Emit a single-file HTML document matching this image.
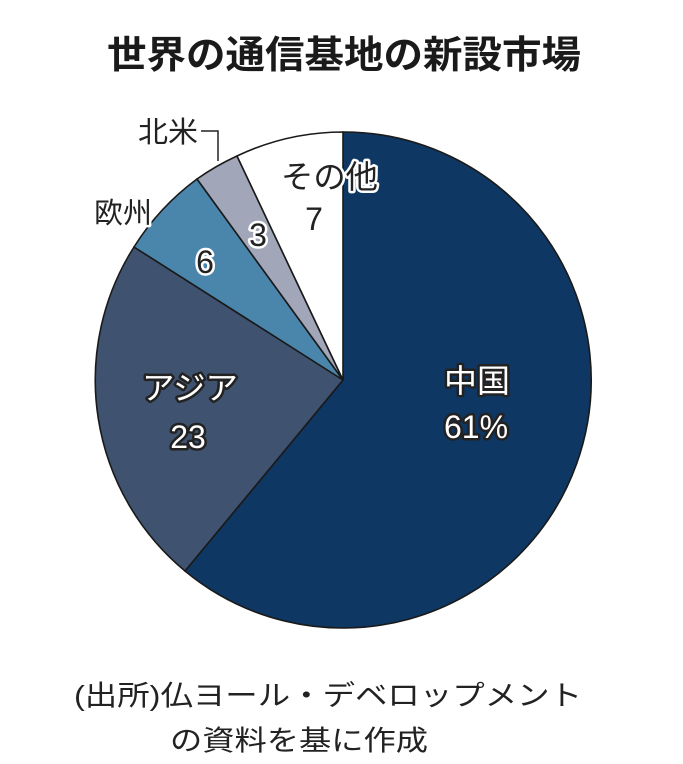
<!DOCTYPE html>
<html><head><meta charset="utf-8"><style>
body{margin:0;background:#fff;}
svg{display:block;font-family:"Liberation Sans","Noto Sans CJK JP",sans-serif;}
.h{paint-order:stroke;stroke:#fff;stroke-width:5px;stroke-linejoin:round;}
.w{paint-order:stroke;stroke:#222;stroke-width:5px;stroke-linejoin:round;fill:#fff;}
</style></head><body>
<svg width="683" height="764" viewBox="0 0 683 764">
<text x="107" y="68" font-size="38" font-weight="bold" fill="#1a1a1a" textLength="474" lengthAdjust="spacingAndGlyphs">世界の通信基地の新設市場</text>
<g stroke="#1a1a1a" stroke-width="1.6">
<path d="M343,380 L343,132 A248,248 0 1,1 185,571 Z" fill="#0e3763"/>
<path d="M343,380 L185,571 A248,248 0 0,1 134,247 Z" fill="#3f5370"/>
<path d="M343,380 L134,247 A248,248 0 0,1 197,179 Z" fill="#4a86ab"/>
<path d="M343,380 L197,179 A248,248 0 0,1 237,156 Z" fill="#a2a6b9"/>
<path d="M343,380 L237,156 A248,248 0 0,1 343,132 Z" fill="#fff"/>
</g>
<polyline points="218,161 218,131 201,131" fill="none" stroke="#222" stroke-width="1.5"/>
<text x="138" y="142" font-size="29" fill="#222" textLength="60" lengthAdjust="spacingAndGlyphs">北米</text>
<text x="94" y="223" font-size="29" fill="#222" class="h" textLength="58" lengthAdjust="spacingAndGlyphs">欧州</text>
<text x="281" y="188" font-size="32" fill="#222" class="h" textLength="97" lengthAdjust="spacingAndGlyphs">その他</text>
<text x="314" y="230" font-size="32" text-anchor="middle" fill="#222" class="h">7</text>
<text x="258" y="246" font-size="32" text-anchor="middle" fill="#222" class="h">3</text>
<text x="205" y="273" font-size="32" text-anchor="middle" fill="#222" class="h">6</text>
<text x="142" y="399" font-size="32" class="w" textLength="96" lengthAdjust="spacingAndGlyphs">アジア</text>
<text x="188" y="448" font-size="32" text-anchor="middle" class="w">23</text>
<text x="444" y="392" font-size="32" class="w" textLength="66" lengthAdjust="spacingAndGlyphs">中国</text>
<text x="476" y="438" font-size="32" text-anchor="middle" class="w">61%</text>
<text x="74" y="705" font-size="28" fill="#222" textLength="508" lengthAdjust="spacingAndGlyphs">(出所)仏ヨール・デベロップメント</text>
<text x="170" y="750" font-size="28" fill="#222" textLength="258" lengthAdjust="spacingAndGlyphs">の資料を基に作成</text>
</svg>
</body></html>
